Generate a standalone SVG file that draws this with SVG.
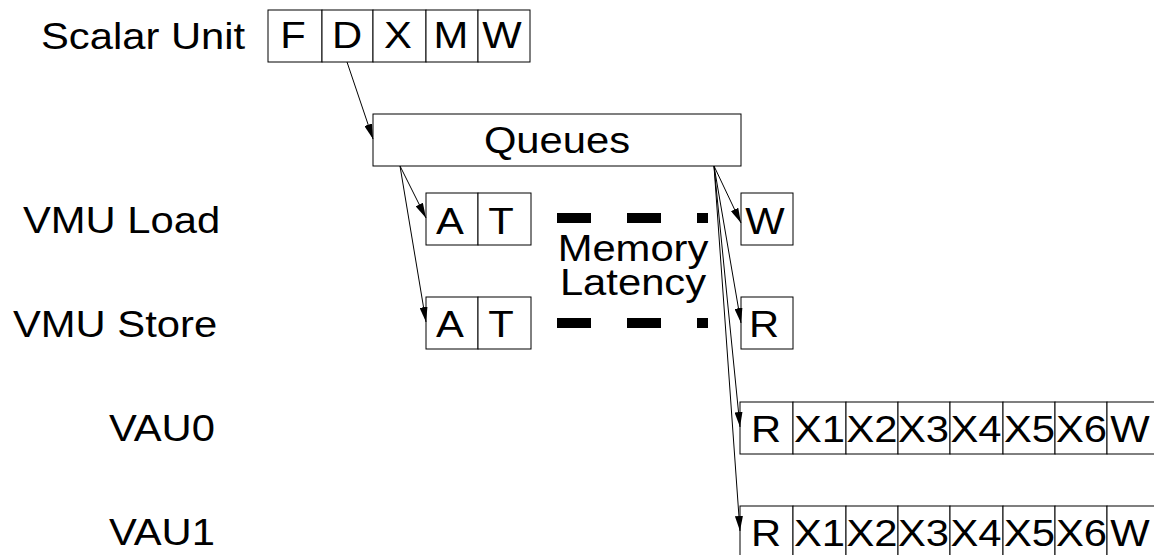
<svg xmlns="http://www.w3.org/2000/svg" width="1154" height="555" viewBox="0 0 1154 555">
  <style>
    .bx { fill: #fff; stroke: #000; stroke-width: 1; }
    .t { font-family: "Liberation Sans", Arial, sans-serif; font-size: 36px; fill: #000; }
    .m { text-anchor: middle; }
    .cn { stroke: #000; stroke-width: 1; fill: none; marker-end: url(#ah); }
    .lat { stroke: #000; stroke-width: 10; stroke-dasharray: 34 36; fill: none; }
  </style>
  <defs>
    <marker id="ah" viewBox="0 0 15 8" refX="15" refY="4" markerWidth="15" markerHeight="8" markerUnits="userSpaceOnUse" orient="auto">
      <path d="M0,0 L15,4 L0,8 Z" fill="#000"/>
    </marker>
  </defs>
  <rect width="1154" height="555" fill="#fff"/>

  <g id="labels">
    <text class="t" transform="translate(41,49) scale(1.16,1)">Scalar Unit</text>
    <text class="t" transform="translate(23,233) scale(1.16,1)">VMU Load</text>
    <text class="t" transform="translate(13,337) scale(1.16,1)">VMU Store</text>
    <text class="t" transform="translate(109,441) scale(1.16,1)">VAU0</text>
    <text class="t" transform="translate(109,545) scale(1.16,1)">VAU1</text>
  </g>

  <g id="scalar">
    <rect class="bx" x="268" y="10" width="54" height="52"/>
    <rect class="bx" x="322" y="10" width="51" height="52"/>
    <rect class="bx" x="373" y="10" width="53" height="52"/>
    <rect class="bx" x="426" y="10" width="52" height="52"/>
    <rect class="bx" x="478" y="10" width="52" height="52"/>
    <text class="t m" transform="translate(293,48) scale(1.16,1)">F</text>
    <text class="t m" transform="translate(347,48) scale(1.16,1)">D</text>
    <text class="t m" transform="translate(398,48) scale(1.16,1)">X</text>
    <text class="t m" transform="translate(451,48) scale(1.16,1)">M</text>
    <text class="t m" transform="translate(502,48) scale(1.16,1)">W</text>
  </g>

  <g id="queues">
    <rect class="bx" x="373" y="114" width="368" height="52"/>
    <text class="t m" transform="translate(557,153) scale(1.16,1)">Queues</text>
  </g>

  <g id="vmu-load">
    <rect class="bx" x="426" y="193" width="52" height="52"/>
    <rect class="bx" x="478" y="193" width="53" height="52"/>
    <text class="t m" transform="translate(450,234) scale(1.16,1)">A</text>
    <text class="t m" transform="translate(501,234) scale(1.16,1)">T</text>
  </g>
  <g id="vmu-load-w">
    <rect class="bx" x="741" y="193" width="52" height="52"/>
    <text class="t m" transform="translate(765,234) scale(1.16,1)">W</text>
  </g>

  <g id="vmu-store">
    <rect class="bx" x="426" y="297" width="52" height="52"/>
    <rect class="bx" x="478" y="297" width="53" height="52"/>
    <text class="t m" transform="translate(450,337) scale(1.16,1)">A</text>
    <text class="t m" transform="translate(501,337) scale(1.16,1)">T</text>
  </g>
  <g id="vmu-store-r">
    <rect class="bx" x="741" y="297" width="52" height="52"/>
    <text class="t m" transform="translate(764,337) scale(1.16,1)">R</text>
  </g>

  <g id="memory-latency">
    <line class="lat" x1="557" y1="218" x2="708" y2="218"/>
    <line class="lat" x1="557" y1="323" x2="708" y2="323"/>
    <text class="t m" transform="translate(633,261) scale(1.16,1)">Memory</text>
    <text class="t m" transform="translate(633,295) scale(1.16,1)">Latency</text>
  </g>

  <g id="vau0">
    <rect class="bx" x="740" y="402" width="53" height="52"/>
    <rect class="bx" x="793" y="402" width="53" height="52"/>
    <rect class="bx" x="846" y="402" width="52" height="52"/>
    <rect class="bx" x="898" y="402" width="52" height="52"/>
    <rect class="bx" x="950" y="402" width="53" height="52"/>
    <rect class="bx" x="1003" y="402" width="52" height="52"/>
    <rect class="bx" x="1055" y="402" width="52" height="52"/>
    <rect class="bx" x="1107" y="402" width="53" height="52"/>
    <text class="t m" transform="translate(766,442) scale(1.16,1)">R</text>
    <text class="t" transform="translate(794,442) scale(1.16,1)">X1</text>
    <text class="t" transform="translate(846.5,442) scale(1.16,1)">X2</text>
    <text class="t" transform="translate(898,442) scale(1.16,1)">X3</text>
    <text class="t" transform="translate(950.5,442) scale(1.16,1)">X4</text>
    <text class="t" transform="translate(1004,442) scale(1.16,1)">X5</text>
    <text class="t" transform="translate(1056,442) scale(1.16,1)">X6</text>
    <text class="t m" transform="translate(1130,442) scale(1.16,1)">W</text>
  </g>

  <g id="vau1">
    <rect class="bx" x="740" y="506" width="53" height="52"/>
    <rect class="bx" x="793" y="506" width="53" height="52"/>
    <rect class="bx" x="846" y="506" width="52" height="52"/>
    <rect class="bx" x="898" y="506" width="52" height="52"/>
    <rect class="bx" x="950" y="506" width="53" height="52"/>
    <rect class="bx" x="1003" y="506" width="52" height="52"/>
    <rect class="bx" x="1055" y="506" width="52" height="52"/>
    <rect class="bx" x="1107" y="506" width="53" height="52"/>
    <text class="t m" transform="translate(766,546) scale(1.16,1)">R</text>
    <text class="t" transform="translate(794,546) scale(1.16,1)">X1</text>
    <text class="t" transform="translate(846.5,546) scale(1.16,1)">X2</text>
    <text class="t" transform="translate(898,546) scale(1.16,1)">X3</text>
    <text class="t" transform="translate(950.5,546) scale(1.16,1)">X4</text>
    <text class="t" transform="translate(1004,546) scale(1.16,1)">X5</text>
    <text class="t" transform="translate(1056,546) scale(1.16,1)">X6</text>
    <text class="t m" transform="translate(1130,546) scale(1.16,1)">W</text>
  </g>

  <g id="connectors">
    <line class="cn" x1="347" y1="62" x2="373" y2="139"/>
    <line class="cn" x1="400" y1="166" x2="426" y2="218"/>
    <line class="cn" x1="400" y1="166" x2="426" y2="322"/>
    <line class="cn" x1="714" y1="166" x2="741" y2="223"/>
    <line class="cn" x1="714" y1="166" x2="741" y2="323"/>
    <line class="cn" x1="714" y1="166" x2="740" y2="427"/>
    <line class="cn" x1="714" y1="166" x2="740" y2="531"/>
  </g>
</svg>
